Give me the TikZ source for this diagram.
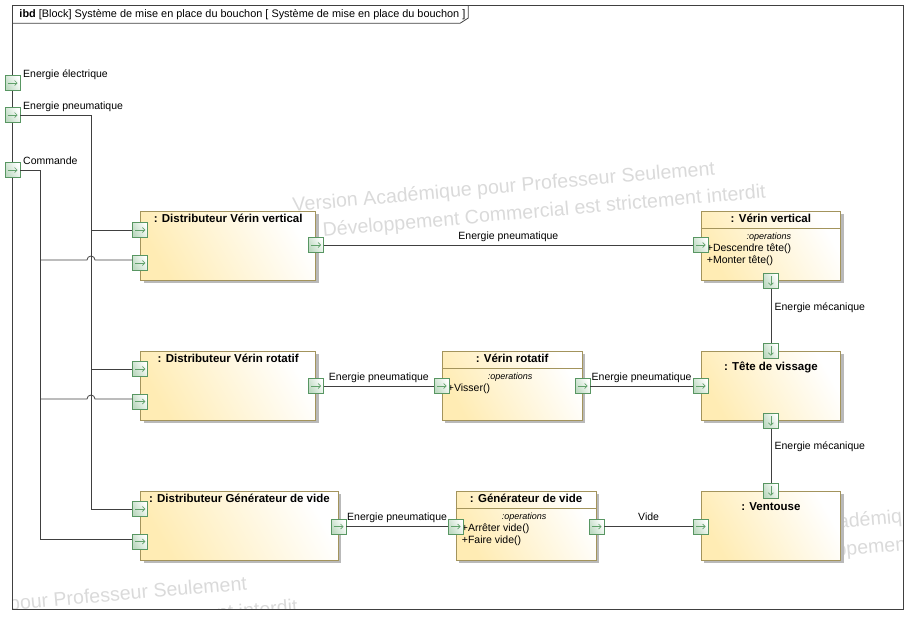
\documentclass[tikz,border=0pt]{standalone}
\usepackage{fontspec}
\setmainfont{Liberation Sans}
\usetikzlibrary{positioning,arrows.meta,shadows,calc}

\definecolor{linegrey}{RGB}{64,64,64}
\definecolor{blockborder}{RGB}{163,148,92}
\definecolor{blockfill}{RGB}{255,236,180}
\definecolor{shadowgrey}{RGB}{185,185,185}
\definecolor{portborder}{RGB}{88,150,98}
\definecolor{portfill}{RGB}{190,218,194}
\definecolor{portarrow}{RGB}{96,160,106}
\definecolor{wmgrey}{RGB}{218,218,218}

\begin{document}
\begin{tikzpicture}[x=1pt, y=-1pt,
    font=\fontsize{10.5}{12}\selectfont,
    wire/.style={draw=linegrey, line width=0.8pt},
    block/.style={draw=blockborder, line width=0.8pt, left color=blockfill, right color=white,
      shading angle=120, drop shadow={shadow xshift=3pt, shadow yshift=-3pt, fill=shadowgrey, opacity=1},
      anchor=north west, minimum height=69.3pt, inner sep=0pt},
    compline/.style={draw=blockborder, line width=0.8pt},
    port/.style={draw=portborder, line width=0.7pt, left color=portfill, right color=white,
      shading angle=120, minimum size=15pt, inner sep=0pt},
    portarr/.style={draw=portarrow, line width=0.7pt, -{Straight Barb[length=2.5pt, width=5pt]}},
    blocktitle/.style={font=\fontsize{11.5}{13}\selectfont\bfseries, anchor=base, inner sep=0pt},
    opshead/.style={font=\fontsize{9}{10}\selectfont\itshape, anchor=base, inner sep=0pt},
    opitem/.style={anchor=base west, inner sep=0pt},
    lbl/.style={text height=8pt, text depth=2.2pt, inner sep=3.3pt},
    framelbl/.style={anchor=base west, inner sep=0pt},
    wmark/.style={text=wmgrey, font=\fontsize{19.6}{24}\selectfont, rotate=5, anchor=base west, inner sep=0pt}]

  \useasboundingbox (0,0) rectangle (918,624);

  % watermark
  \begin{scope}
    \clip (12,5) rectangle (903,609);
    \foreach \dx/\dy in {0/0, -468/415, 452/325} {
      \node[wmark] at (293+\dx, 211.7+\dy) {Version Académique pour Professeur Seulement};
      \node[wmark] at (296+\dx, 239+\dy) {Le Développement Commercial est strictement interdit};
    }
  \end{scope}

  % frame
  \draw[wire] (12,5) rectangle (903,609);
  \draw[wire] (12,23.3) -- (460,23.3) -- (468.3,18) -- (468.3,5);
  \node[framelbl, font=\fontsize{10.9}{12}\selectfont] (hdr) at (19.3,17.3) {\textbf{ibd} [Block] Système de mise en place du bouchon [ Système de mise en place du bouchon ]};

  % blocks
  \node[block, minimum width=175pt] (dvv) at (140.3,210.7) {};
  \node[block, minimum width=175pt] (dvr) at (140.3,350.7) {};
  \node[block, minimum width=197.4pt] (dgv) at (140.3,490.7) {};
  \node[block, minimum width=139.6pt] (vv) at (700.7,210.7) {};
  \node[block, minimum width=140pt] (vr) at (441.7,350.7) {};
  \node[block, minimum width=139.6pt] (tv) at (700.7,350.7) {};
  \node[block, minimum width=140pt] (gv) at (455.7,490.7) {};
  \node[block, minimum width=139.6pt] (ve) at (700.7,490.7) {};

  \node[blocktitle] at ([yshift=-12pt]dvv.north) {: Distributeur Vérin vertical};
  \node[blocktitle] at ([yshift=-12pt]dvr.north) {: Distributeur Vérin rotatif};
  \node[blocktitle] at ([yshift=-12pt]dgv.north) {: Distributeur Générateur de vide};
  \node[blocktitle] at ([yshift=-12pt]vv.north) {: Vérin vertical};
  \node[blocktitle] at ([yshift=-12pt]vr.north) {: Vérin rotatif};
  \node[blocktitle] at ([yshift=-12pt]gv.north) {: Générateur de vide};
  \node[blocktitle] at ([yshift=-19.3pt]tv.north) {: Tête de vissage};
  \node[blocktitle] at ([yshift=-19.3pt]ve.north) {: Ventouse};

  % operations compartments
  \foreach \b in {vv,vr,gv} {
    \draw[compline] ([yshift=-17.6pt]\b.north west) -- ([yshift=-17.6pt]\b.north east);
    \node[opshead] at ([xshift=-2pt, yshift=-28.4pt]\b.north) {:operations};
  }
  \node[opitem] at ([xshift=6pt, yshift=-40.3pt]vv.north west) {+Descendre tête()};
  \node[opitem] at ([xshift=6pt, yshift=-52.6pt]vv.north west) {+Monter tête()};
  \node[opitem] at ([xshift=6pt, yshift=-40.3pt]vr.north west) {+Visser()};
  \node[opitem] at ([xshift=6pt, yshift=-40.3pt]gv.north west) {+Arrêter vide()};
  \node[opitem] at ([xshift=6pt, yshift=-52.6pt]gv.north west) {+Faire vide()};

  % ports
  \node[port] (pe) at (12.5,83) {};
  \node[port] (pp) at (12.5,115) {};
  \node[port] (pc) at (12.5,170) {};
  \node[framelbl] at (23,77) {Energie électrique};
  \node[framelbl] at (23,109) {Energie pneumatique};
  \node[framelbl] at (23,164) {Commande};

  \node[port] (dvv1) at (dvv.west |- 0,230) {};
  \node[port] (dvv2) at (dvv.west |- 0,263) {};
  \node[port] (dvv3) at (dvv.east |- 0,245) {};
  \node[port] (dvr1) at (dvr.west |- 0,369) {};
  \node[port] (dvr2) at (dvr.west |- 0,401.5) {};
  \node[port] (dvr3) at (dvr.east |- 0,386) {};
  \node[port] (dgv1) at (dgv.west |- 0,509) {};
  \node[port] (dgv2) at (dgv.west |- 0,541.5) {};
  \node[port] (dgv3) at (dgv.east |- 0,526.5) {};
  \node[port] (vv1) at (vv.west |- 0,245) {};
  \node[port] (vv2) at (vv.south) {};
  \node[port] (vr1) at (vr.west |- 0,386) {};
  \node[port] (vr2) at (vr.east |- 0,386) {};
  \node[port] (tv1) at (tv.north) {};
  \node[port] (tv2) at (tv.south) {};
  \node[port] (tv3) at (tv.west |- 0,386) {};
  \node[port] (gv1) at (gv.west |- 0,526.5) {};
  \node[port] (gv2) at (gv.east |- 0,526.5) {};
  \node[port] (ve1) at (ve.north) {};
  \node[port] (ve2) at (ve.west |- 0,526.5) {};

  \foreach \p in {pe,pp,pc,dvv1,dvv2,dvv3,dvr1,dvr2,dvr3,dgv1,dgv2,dgv3,vv1,vr1,vr2,tv3,gv1,gv2,ve2}
    \draw[portarr] ([xshift=-5pt]\p.center) -- ([xshift=5pt]\p.center);
  \foreach \p in {vv2,tv1,tv2,ve1}
    \draw[portarr] ([yshift=5pt]\p.center) -- ([yshift=-5pt]\p.center);

  % buses
  \coordinate (pbus) at (91,0);
  \coordinate (cbus) at (40,0);
  \coordinate (c1) at ([yshift=3pt]dvv2.west);
  \coordinate (c2) at ([yshift=2.5pt]dvr2.west);
  \coordinate (c3) at ([yshift=2.5pt]dgv2.west);

  \draw[wire] (pp.east) -| (pbus |- dgv1.west) -- (dgv1.west);
  \draw[wire] (pbus |- dvv1.west) -- (dvv1.west);
  \draw[wire] (pbus |- dvr1.west) -- (dvr1.west);
  \draw[wire] (pc.east) -| (cbus |- c3) -- (c3);
  \draw[wire] (cbus |- c1) -- ($(pbus |- c1)+(-4pt,0)$) arc[start angle=180, end angle=0, radius=4pt] -- (c1);
  \draw[wire] (cbus |- c2) -- ($(pbus |- c2)+(-4pt,0)$) arc[start angle=180, end angle=0, radius=4pt] -- (c2);

  % flows
  \draw[wire] (dvv3.east) -- node[lbl, above] {Energie pneumatique} (vv1.west);
  \draw[wire] (dvr3.east) -- node[lbl, above] {Energie pneumatique} (vr1.west);
  \draw[wire] (vr2.east) -- node[lbl, above] {Energie pneumatique} (tv3.west);
  \draw[wire] (dgv3.east) -- node[lbl, above] {Energie pneumatique} (gv1.west);
  \draw[wire] (gv2.east) -- node[lbl, above] {Vide} (ve2.west);
  \draw[wire] (vv2.south) -- node[lbl, right, pos=0.35] {Energie mécanique} (tv1.north);
  \draw[wire] (tv2.south) -- node[lbl, right, pos=0.33] {Energie mécanique} (ve1.north);
\end{tikzpicture}
\end{document}
